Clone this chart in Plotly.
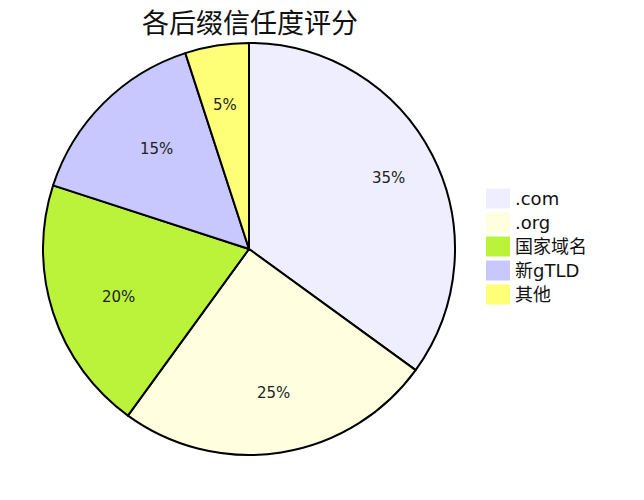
import math
import plotly.graph_objects as go

labels = ['.com', '.org', '国家域名', '新gTLD', '其他']
values = [35, 25, 20, 15, 5]
colors = ['#eeeeff', '#ffffe0', '#bbf33b', '#c8c8ff', '#ffff77']

W, H = 644, 500


def px(x):
    return x / W


def py(y):
    return 1 - y / H


cx, cy, r = 249, 249, 206

fig = go.Figure(go.Pie(
    labels=labels, values=values,
    sort=False, direction='clockwise', rotation=0,
    marker=dict(colors=colors, line=dict(color='black', width=2)),
    textinfo='none',
    domain=dict(x=[px(cx - r), px(cx + r)], y=[py(cy + r), py(cy - r)]),
    hoverinfo='label+percent',
    showlegend=False,
))

# percentage labels placed along each wedge's mid angle
total = sum(values)
start = 0
for v in values:
    mid = (start + v / 2) / total * 2 * math.pi
    start += v
    tx = cx + 0.76 * r * math.sin(mid)
    ty = cy - 0.76 * r * math.cos(mid)
    fig.add_annotation(x=px(tx), y=py(ty), xref='paper', yref='paper',
                       text=f'{v / total:.0%}', showarrow=False,
                       font=dict(family='DejaVu Sans', size=15, color='#222'))

# legend swatches
for i, (lab, col) in enumerate(zip(labels, colors)):
    yc = 198.5 + 24 * i
    fig.add_shape(type='rect', xref='paper', yref='paper',
                  x0=px(486), x1=px(510), y0=py(yc + 10), y1=py(yc - 10),
                  fillcolor=col, line=dict(width=0))
    fig.add_annotation(x=px(513), y=py(yc), xref='paper', yref='paper',
                       text=lab, showarrow=False, xanchor='left', yanchor='middle',
                       font=dict(family='DejaVu Sans, Noto Sans CJK SC', size=18, color='#111'))

# title
fig.add_annotation(x=px(250), y=1, xref='paper', yref='paper',
                   text='各后缀信任度评分', showarrow=False,
                   xanchor='center', yanchor='top',
                   font=dict(family='Noto Sans CJK SC', size=27, color='#111'))

fig.update_layout(
    width=W, height=H,
    margin=dict(l=0, r=0, t=0, b=0),
    paper_bgcolor='white',
)

fig.write_html("out.html", config={'displayModeBar': False},
               post_script="document.body.style.margin='0';")
